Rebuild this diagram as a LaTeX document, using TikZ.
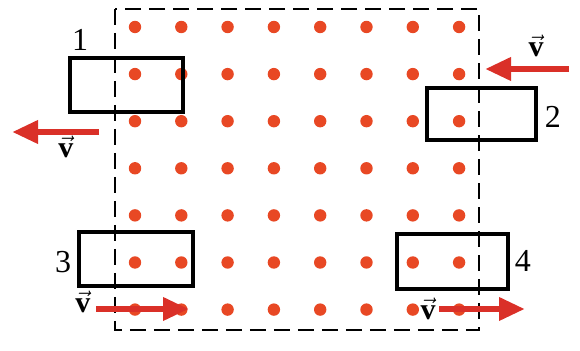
\documentclass[tikz,border=0pt]{standalone}
\usepackage{fontspec}
\setmainfont{Liberation Serif}
\usetikzlibrary{arrows.meta}
\definecolor{dotred}{RGB}{232,72,36}
\definecolor{arrred}{RGB}{218,48,40}
\tikzset{
  frame/.style={line width=1.8pt},
  vel/.style={arrred,line width=3.4pt,-{Triangle[length=13pt,width=11pt]}},
  num/.style={font=\fontsize{16}{18}\selectfont},
  vlab/.style={font=\fontsize{15}{17}\selectfont}
}
\begin{document}
\begin{tikzpicture}[x=0.5pt,y=-0.5pt]
   \useasboundingbox (0,0) rectangle (580,351);
   % field region
   \draw[line width=0.8pt,dash pattern=on 8pt off 4pt] (115,9) rectangle (479,330);
   \foreach \i in {0,...,7}
     \foreach \j in {0,...,6}
       \fill[dotred] (135+46.3*\i,27+47.1*\j) circle (3.1pt);
   % frames
   \draw[frame] (70,58) rectangle (183,112);
   \draw[frame] (427,88) rectangle (536,140);
   \draw[frame] (79,232) rectangle (193,286);
   \draw[frame] (397,234) rectangle (508,289);
   \node[num] (n1) at (80,40) {1};
   \node[num] (n2) at (553,117) {2};
   \node[num] (n3) at (63,262) {3};
   \node[num] (n4) at (523,261) {4};
   % velocities
   \coordinate (a1) at (99,132);  \coordinate (b1) at (12,132);
   \coordinate (a2) at (569,69);  \coordinate (b2) at (485,69);
   \coordinate (a3) at (96,309);  \coordinate (b3) at (189,309);
   \coordinate (a4) at (439,309); \coordinate (b4) at (525,309);
   \draw[vel] (a1) -- (b1);
   \draw[vel] (a2) -- (b2);
   \draw[vel] (a3) -- (b3);
   \draw[vel] (a4) -- (b4);
   \node[vlab] (v1) at (66,147) {$\vec{\mathbf{v}}$};
   \node[vlab] (v2) at (536,46) {$\vec{\mathbf{v}}$};
   \node[vlab] (v3) at (83,302) {$\vec{\mathbf{v}}$};
   \node[vlab] (v4) at (428,309) {$\vec{\mathbf{v}}$};
\end{tikzpicture}
\end{document}
